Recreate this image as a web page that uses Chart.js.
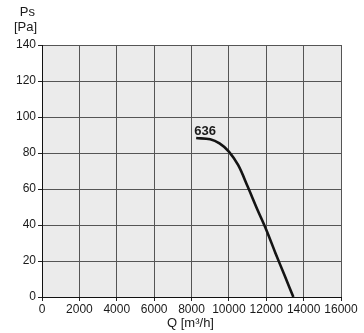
<!DOCTYPE html>
<html>
<head>
<meta charset="utf-8">
<script src="https://cdn.jsdelivr.net/npm/chart.js@4/dist/chart.umd.min.js"></script>
<style>
  html, body { margin: 0; padding: 0; background: #ffffff; }
  #wrap { width: 364px; height: 333px; }
</style>
</head>
<body>
<div id="wrap"><canvas id="c" width="364" height="333"></canvas></div>
<script>
// Fan curve: static pressure vs air flow
const modelName = "636";
const flowRate = [8250, 9000, 9500, 10000, 10500, 11000, 11500, 12000, 12500, 13000, 13450]; // m³/h
const pressure = [88.3, 87.6, 85.3, 80.8, 73.2, 61.5, 49.2, 37.4, 24.2, 11.5, 0];           // Pa
const xTicks = [0, 2000, 4000, 6000, 8000, 10000, 12000, 14000, 16000];
const yTicks = [0, 20, 40, 60, 80, 100, 120, 140];

const FONT = "'Liberation Sans', Arial, Helvetica, sans-serif";

const points = flowRate.map((q, i) => ({ x: q, y: pressure[i] }));

const plotBackground = {
  id: 'plotBackground',
  beforeDraw(chart) {
    const { ctx, chartArea: a } = chart;
    ctx.save();
    ctx.fillStyle = '#ebebeb';
    ctx.fillRect(a.left, a.top, a.right - a.left, a.bottom - a.top);
    ctx.restore();
  }
};

const annotations = {
  id: 'annotations',
  afterDraw(chart) {
    const { ctx, chartArea: a } = chart;
    ctx.save();
    ctx.fillStyle = '#1a1a1a';
    // y axis title
    ctx.font = '13px ' + FONT;
    ctx.textAlign = 'right';
    ctx.textBaseline = 'middle';
    ctx.fillText('Ps', 35, 12);
    ctx.fillText('[Pa]', 37, 27);
    // x axis title
    ctx.textAlign = 'center';
    ctx.fillText('Q [m³/h]', (a.left + a.right) / 2 - 1, 323);
    // model label at the start of the curve
    const meta = chart.getDatasetMeta(0);
    const p0 = meta.data[0];
    ctx.font = 'bold 13px ' + FONT;
    ctx.textAlign = 'left';
    ctx.textBaseline = 'alphabetic';
    ctx.fillText(modelName, p0.x - 2, p0.y - 3);
    ctx.restore();
  }
};

new Chart(document.getElementById('c'), {
  type: 'scatter',
  data: {
    datasets: [{
      label: modelName,
      data: points,
      showLine: true,
      borderColor: '#141414',
      borderWidth: 2.6,
      pointRadius: 0,
      fill: false,
      tension: 0.35
    }]
  },
  options: {
    responsive: false,
    animation: false,
    devicePixelRatio: 1,
    layout: { padding: { top: 45, right: 23, left: 0, bottom: 0 } },
    plugins: { legend: { display: false }, tooltip: { enabled: false } },
    scales: {
      x: {
        type: 'linear',
        min: 0, max: 16000,
        afterBuildTicks(scale) { scale.ticks = xTicks.map(v => ({ value: v })); },
        afterFit(scale) { scale.height = 36; },
        ticks: {
          color: '#1a1a1a',
          font: { family: FONT, size: 12 },
          padding: 1,
          maxRotation: 0,
          autoSkip: false,
          callback: v => String(v)
        },
        grid: { color: '#555555', lineWidth: 1, tickLength: 4, tickColor: '#222' },
        border: { color: '#111', width: 1 }
      },
      y: {
        type: 'linear',
        min: 0, max: 140,
        afterBuildTicks(scale) { scale.ticks = yTicks.map(v => ({ value: v })); },
        afterFit(scale) { scale.width = 42; },
        ticks: {
          color: '#1a1a1a',
          font: { family: FONT, size: 12 },
          padding: 2,
          autoSkip: false,
          callback: v => String(v)
        },
        grid: { color: '#555555', lineWidth: 1, tickLength: 4, tickColor: '#222' },
        border: { color: '#111', width: 1 }
      }
    }
  },
  plugins: [plotBackground, annotations]
});
</script>
</body>
</html>
